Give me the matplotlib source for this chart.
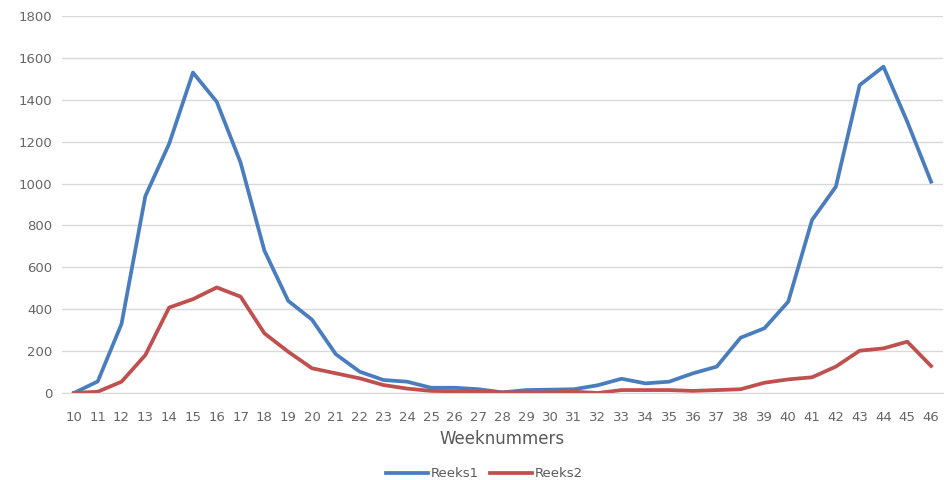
import numpy as np
import matplotlib
matplotlib.use("Agg")
import matplotlib.pyplot as plt

# weeknummers en waarden per reeks
weken = list(range(10, 47))
reeks1 = [0, 55, 330, 940, 1190, 1530, 1390, 1100, 680, 440, 350, 185, 102, 62, 54,
          25, 25, 18, 3, 14, 16, 18, 37, 68, 46, 54, 94, 126, 264, 309, 436, 826,
          985, 1470, 1558, 1295, 1009]
reeks2 = [0, 6, 54, 181, 408, 448, 504, 460, 285, 197, 118, 94, 70, 38, 21,
          10, 8, 8, 3, 3, 3, 6, 0, 14, 14, 14, 10, 14, 18, 49, 65, 75,
          126, 202, 213, 245, 129]
y_ticks = list(range(0, 2000, 200))

plt.rcParams['font.family'] = ['DejaVu Sans']

fig = plt.figure(figsize=(9.44, 4.8), dpi=100)
ax = fig.add_axes([62 / 944, 87 / 480, 881 / 944, 377 / 480])

ax.plot(weken, reeks1, color="#4A7DBE", lw=2.7, label="Reeks1", solid_joinstyle="round")
ax.plot(weken, reeks2, color="#C0504D", lw=2.7, label="Reeks2", solid_joinstyle="round")

ax.set_xlim(9.5, 46.5)
ax.set_ylim(0, 1800)
ax.set_xticks(weken)
ax.set_xticklabels([str(w) for w in weken])
ax.set_yticks(y_ticks)

ax.grid(axis="y", color="#D9D9D9", lw=1)
ax.set_axisbelow(True)
for s in ["top", "right", "left"]:
    ax.spines[s].set_visible(False)
ax.spines["bottom"].set_color("#D9D9D9")
ax.tick_params(axis="both", length=0, labelsize=9.5, colors="#666666")
ax.tick_params(axis="x", pad=13)
ax.tick_params(axis="y", pad=7)

ax.set_xlabel("Weeknummers", fontsize=12, color="#595959", labelpad=4)

fig.legend(loc="lower center", bbox_to_anchor=(0.513, -0.017), ncol=2, frameon=False,
           fontsize=9.5, handlelength=3.2, handletextpad=0.2, columnspacing=0.8,
           borderpad=0.1, labelcolor="#595959")

fig.savefig("out.png", dpi=100)
